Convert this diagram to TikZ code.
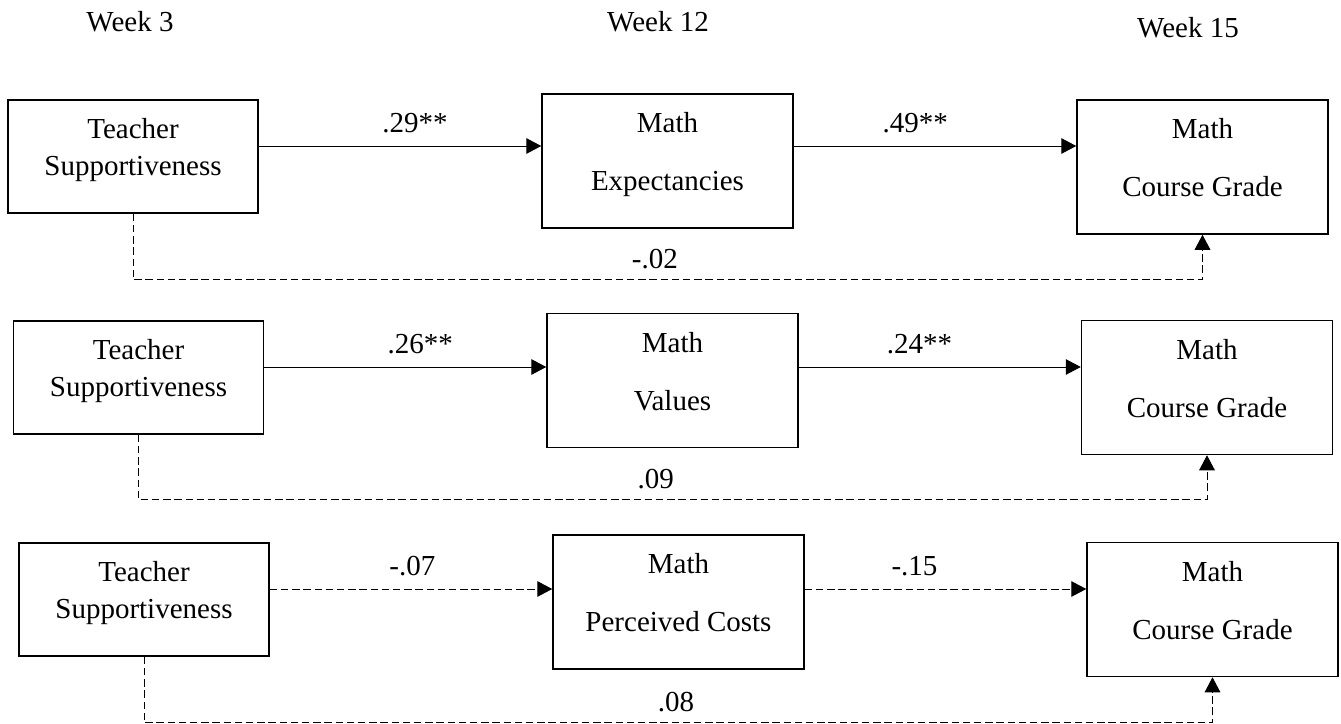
\documentclass[tikz,border=0pt]{standalone}
\usepackage{fontspec}
\setmainfont{Liberation Serif}
\usetikzlibrary{arrows.meta}

\begin{document}
\begin{tikzpicture}[x=0.5pt, y=-0.5pt,
    every node/.style={font=\fontsize{14.5}{17}\selectfont},
    varbox/.style={draw, line width=0.75pt, minimum width=125.5pt, minimum height=67pt, inner sep=0pt},
    predbox/.style={varbox, minimum width=125pt, minimum height=56.5pt},
    boxtext/.style={anchor=north, inner sep=0pt, align=center, font=\fontsize{14.5}{29}\selectfont},
    predtext/.style={boxtext, font=\fontsize{14.5}{18.5}\selectfont},
    path/.style={line width=0.5pt, -{Triangle[length=7.5pt, width=7.8pt]}},
    nspath/.style={path, dash pattern=on 3.7pt off 1.9pt},
    coef/.style={above=3pt},
    dcoef/.style={above=1.8pt}]
    \useasboundingbox (0,0) rectangle (1341,724);

    % Time points
    \node (wk3) at (130,22) {Week 3};
    \node (wk12) at (658,22) {Week 12};
    \node (wk15) at (1188,28) {Week 15};

    % Model 1: expectancies
    \node[predbox] (ts1) at (133,156.5) {};
    \node[varbox] (me1) at (667.5,161) {};
    \node[varbox] (cg1) at (1202.5,167) {};
    \node[predtext] (ts1t) at ([yshift=-9.5pt]ts1.north) {Teacher\\Supportiveness};
    \node[boxtext] (me1t) at ([yshift=-9.5pt]me1.north) {Math\\Expectancies};
    \node[boxtext] (cg1t) at ([yshift=-9.5pt]cg1.north) {Math\\Course Grade};
    \coordinate (y1) at ([yshift=5.25pt]ts1.east);
    \draw[path] (y1) -- (y1 -| me1.west) node[coef, pos=0.553] {.29**};
    \draw[path] (y1 -| me1.east) -- (y1 -| cg1.west) node[coef, pos=0.43] {.49**};
    \draw[nspath] (ts1.south) -- ++(0,66) -| node[dcoef, pos=0.244] {-.02} (cg1.south);

    % Model 2: values
    \node[predbox] (ts2) at (138.5,377.5) {};
    \node[varbox] (mv2) at (672.5,380.5) {};
    \node[varbox] (cg2) at (1207,387.5) {};
    \node[predtext] (ts2t) at ([yshift=-9.5pt]ts2.north) {Teacher\\Supportiveness};
    \node[boxtext] (mv2t) at ([yshift=-9.5pt]mv2.north) {Math\\Values};
    \node[boxtext] (cg2t) at ([yshift=-9.5pt]cg2.north) {Math\\Course Grade};
    \coordinate (y2) at ([yshift=5.25pt]ts2.east);
    \draw[path] (y2) -- (y2 -| mv2.west) node[coef, pos=0.553] {.26**};
    \draw[path] (y2 -| mv2.east) -- (y2 -| cg2.west) node[coef, pos=0.428] {.24**};
    \draw[nspath] (ts2.south) -- ++(0,65) -| node[dcoef, pos=0.242] {.09} (cg2.south);

    % Model 3: perceived costs
    \node[predbox] (ts3) at (144,599.5) {};
    \node[varbox] (mc3) at (678.5,602) {};
    \node[varbox] (cg3) at (1212.5,609.5) {};
    \node[predtext] (ts3t) at ([yshift=-9.5pt]ts3.north) {Teacher\\Supportiveness};
    \node[boxtext] (mc3t) at ([yshift=-9.5pt]mc3.north) {Math\\Perceived Costs};
    \node[boxtext] (cg3t) at ([yshift=-9.5pt]cg3.north) {Math\\Course Grade};
    \coordinate (y3) at ([yshift=5.25pt]ts3.east);
    \draw[nspath] (y3) -- (y3 -| mc3.west) node[coef, pos=0.505] {-.07};
    \draw[nspath] (y3 -| mc3.east) -- (y3 -| cg3.west) node[coef, pos=0.39] {-.15};
    \draw[nspath] (ts3.south) -- ++(0,66) -| node[dcoef, pos=0.249] {.08} (cg3.south);
\end{tikzpicture}
\end{document}
